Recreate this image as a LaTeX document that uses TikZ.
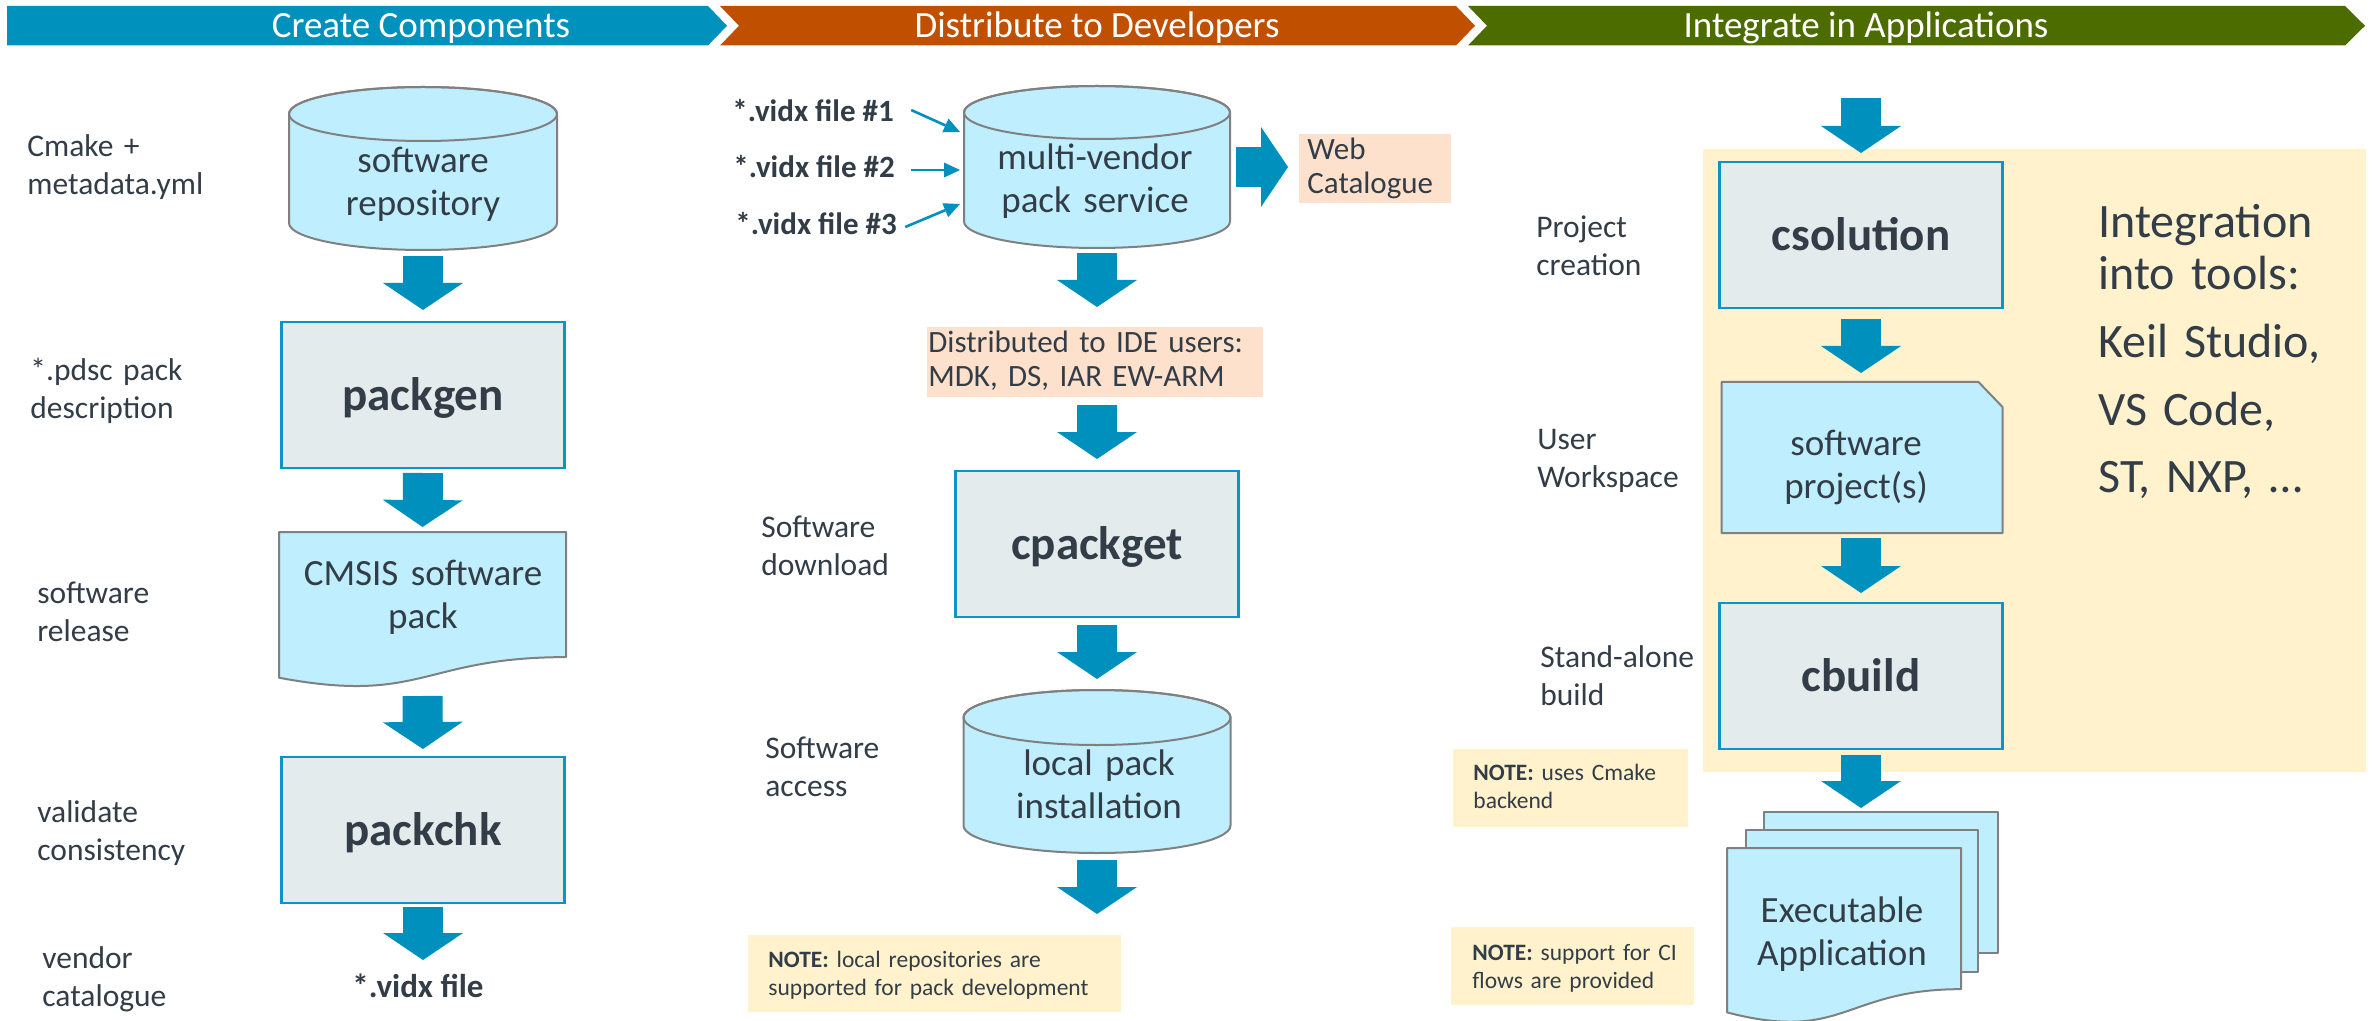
\documentclass[tikz,border=0pt]{standalone}
\usepackage{fontspec}
\setmainfont{Carlito}
\usetikzlibrary{arrows.meta,calc}

\definecolor{hdrblue}{RGB}{0,145,189}
\definecolor{hdrorange}{RGB}{192,80,0}
\definecolor{hdrgreen}{RGB}{76,108,0}
\definecolor{flowblue}{RGB}{0,144,190}
\definecolor{cyanfill}{RGB}{191,238,254}
\definecolor{outlinegray}{RGB}{128,128,128}
\definecolor{toolfill}{RGB}{228,235,236}
\definecolor{toolborder}{RGB}{14,148,196}
\definecolor{peach}{RGB}{253,225,205}
\definecolor{notefill}{RGB}{255,242,204}
\definecolor{textdark}{RGB}{51,61,71}

% storage drum: name, centre x, centre y, width, height, cap half-height (px)
\newcommand\drum[6]{%
  \node[shapeframe, minimum width=#4*0.5pt, minimum height=#5*0.5pt] (#1) at (#2,#3) {};
  \filldraw[outlined] ($(#1.north west)+(0,#6)$) -- ($(#1.south west)+(0,-#6)$)
    arc[start angle=180, end angle=360, x radius=#4*0.25pt, y radius=#6*0.5pt]
    -- ($(#1.north east)+(0,#6)$)
    arc[start angle=0, end angle=180, x radius=#4*0.25pt, y radius=#6*0.5pt] -- cycle;
  \draw[outlined, fill=none] ($(#1.north)+(0,#6)$) ellipse[x radius=#4*0.25pt, y radius=#6*0.5pt];
}

% document sheet with wavy bottom: name, left x, top y, width, nominal height (px)
\newcommand\docsheet[5]{%
  \node[shapeframe, anchor=north west, minimum width=#4*0.5pt, minimum height=#5*0.5pt] (#1) at (#2,#3) {};
  \filldraw[outlined] (#1.north west) -- (#1.north east) -- ($(#1.north east)+(0,{0.802*#5})$)
    .. controls ($(#1.north)+(0,{0.802*#5})$) and ($(#1.north)+(0,{1.1075*#5})$) ..
    ($(#1.north west)+(0,{0.934*#5})$) -- cycle;
}

\begin{document}
\begin{tikzpicture}[x=0.5pt, y=-0.5pt,
  shapeframe/.style={rectangle, inner sep=0pt, outer sep=0pt},
  outlined/.style={fill=cyanfill, draw=outlinegray, line width=1pt, line join=round},
  sheet/.style={shapeframe, outlined},
  toolbox/.style={shapeframe, fill=toolfill, draw=toolborder, line width=1.25pt,
    minimum width=141.5pt, minimum height=73pt, text=textdark,
    font=\bfseries\fontsize{23.5}{28}\selectfont, text height=15.5pt, text depth=0pt},
  peachbox/.style={shapeframe, fill=peach},
  notebox/.style={shapeframe, fill=notefill},
  banner/.style={anchor=base, inner sep=0pt, text=white, font=\fontsize{18.5}{22}\selectfont},
  sidelabel/.style={anchor=base west, inner sep=0pt, text width=110pt, align=left,
    text=textdark, font=\fontsize{15.75}{19}\selectfont},
  inlabel/.style={anchor=base, inner sep=0pt, text width=140pt, align=center,
    text=textdark, font=\fontsize{18.5}{21.5}\selectfont},
  boxlabel/.style={anchor=base west, inner sep=0pt, text width=170pt, align=left,
    text=textdark, font=\fontsize{15.5}{17}\selectfont},
  notelabel/.style={anchor=base west, inner sep=0pt, text width=190pt, align=left,
    text=textdark, font=\fontsize{11.75}{14}\selectfont},
  filelabel/.style={anchor=base west, inner sep=0pt, text=textdark,
    font=\bfseries\fontsize{15.5}{19}\selectfont},
  toollist/.style={anchor=base west, inner sep=0pt, text width=125pt, align=left, text=textdark},
  blockarrow/.style={draw=flowblue, line width=20pt,
    -{Triangle[width=40pt, length=13.5pt, line width=0pt]}},
  thinarrow/.style={draw=flowblue, line width=1.3pt,
    -{Triangle[width=7.5pt, length=8pt, line width=0pt]}}
]
\fill[white] (0,0) rectangle (2376,1021);
\useasboundingbox (0,0) rectangle (2376,1021);

% ---- phase banners ----
\fill[hdrblue] (7,6) -- (708,6) -- (727,25.75) -- (708,45.5) -- (7,45.5) -- cycle;
\fill[hdrorange] (720,6) -- (1456,6) -- (1475,25.75) -- (1456,45.5) -- (720,45.5) -- (739,25.75) -- cycle;
\fill[hdrgreen] (1468,6) -- (2345,6) -- (2365,25.75) -- (2345,45.5) -- (1468,45.5) -- (1487,25.75) -- cycle;
\node[banner] (hdrcreate) at (421,38) {Create Components};
\node[banner] (hdrdistrib) at (1097,38) {Distribute to Developers};
\node[banner] (hdrintegrate) at (1866,38) {Integrate in Applications};

% ---- IDE integration panel ----
\node[notebox, minimum width=331.5pt, minimum height=311.5pt] (ide) at (2034.5,460.5) {};

% ---- column 1: create components ----
\drum{repo}{423}{168.5}{268}{163}{27}
\node[inlabel] (repotext) at (423,173) {software\\repository};
\node[toolbox] (packgen) at (423,395) {packgen};
\docsheet{cmsis}{279}{532}{287}{156}
\node[inlabel] (cmsistext) at (423,585) {CMSIS software\\pack};
\node[toolbox] (packchk) at (423,830) {packchk};
\coordinate (vidxin) at (423,960);
\node[anchor=base, inner sep=0pt, text=textdark, font=\bfseries\fontsize{16.5}{19}\selectfont] (vidxout) at (418,997) {*.vidx file};

\node[sidelabel] (lblcmake) at (27,157) {Cmake +\\metadata.yml};
\node[sidelabel] (lblpdsc) at (30,380) {*.pdsc pack\\description};
\node[sidelabel] (lblrelease) at (37,603) {software\\release};
\node[sidelabel] (lblvalidate) at (37,822) {validate\\consistency};
\node[sidelabel] (lblvendor) at (42,968) {vendor\\catalogue};

\draw[blockarrow, shorten <=3pt, shorten >=6pt] (repo.south) -- (packgen.north);
\draw[blockarrow, shorten <=2.5pt, shorten >=2.5pt] (packgen.south) -- (cmsis.north);
\draw[blockarrow, shorten <=4pt, shorten >=4pt] (cmsis.south) -- (packchk.north);
\draw[blockarrow, shorten <=2pt] (packchk.south) -- (vidxin);

% ---- column 2: distribute to developers ----
\drum{mv}{1097}{167}{266}{162}{26.5}
\node[inlabel] (mvtext) at (1095,170) {multi-vendor\\pack service};
\node[filelabel] (vidx1) at (732,122) {*.vidx file \#1};
\node[filelabel] (vidx2) at (733,178) {*.vidx file \#2};
\node[filelabel] (vidx3) at (735,235) {*.vidx file \#3};
\draw[thinarrow] ($(vidx1.east)+(17,-1)$) -- ($(mv.west)+(-4,-35)$);
\draw[thinarrow] ($(vidx2.east)+(16,3)$) -- ($(vidx2.east -| mv.west)+(-4,3)$);
\draw[thinarrow] ($(vidx3.east)+(8,3)$) -- ($(mv.west)+(-4,37)$);

\node[peachbox, minimum width=76pt, minimum height=34.5pt] (web) at (1375,168.5) {};
\node[boxlabel] (webtext) at (1307,160) {Web\\Catalogue};
\node[peachbox, minimum width=168pt, minimum height=35pt] (distrib) at (1095,362) {};
\node[boxlabel] (distribtext) at (928,353) {Distributed to IDE users:\\MDK, DS, IAR EW-ARM};
\node[toolbox] (cpackget) at (1097,544) {cpackget};
\drum{local}{1097}{771.5}{267}{163}{27.5}
\node[inlabel] (localtext) at (1099,775) {local pack\\installation};
\coordinate (localout) at (1097,914);
\node[notebox, minimum width=186.5pt, minimum height=38.5pt] (notelocal) at (934.5,973.5) {};
\node[notelabel] (notelocaltext) at (768,967) {\textbf{NOTE:} local repositories are\\supported for pack development};

\node[sidelabel] (lbldownload) at (761,537) {Software\\download};
\node[sidelabel] (lblaccess) at (765,758) {Software\\access};

\draw[blockarrow, shorten <=3pt, shorten >=5.5pt] (mv.east) -- (mv.east -| web.west);
\draw[blockarrow, shorten <=2.5pt, shorten >=10pt] (mv.south) -- (distrib.north -| mv.south);
\draw[blockarrow, shorten <=4pt, shorten >=6pt] (distrib.south -| cpackget.north) -- (cpackget.north);
\draw[blockarrow, shorten <=4pt, shorten >=5.5pt] (cpackget.south) -- (local.north);
\draw[blockarrow, shorten <=3.5pt] (local.south) -- (localout);

% ---- column 3: integrate in applications ----
\coordinate (csolin) at (1861,98);
\node[toolbox] (csol) at (1861,235) {csolution};
\node[shapeframe, minimum width=140.5pt, minimum height=75.5pt] (swproj) at (1862,457.5) {};
\filldraw[outlined] (swproj.north west) -- ($(swproj.north east)+(-24,0)$) -- ($(swproj.north east)+(0,25)$)
  -- (swproj.south east) -- (swproj.south west) -- cycle;
\node[inlabel] (swprojtext) at (1856,455) {software\\project(s)};
\node[toolbox] (cbuild) at (1861,676) {cbuild};
\node[sheet, minimum width=117pt, minimum height=70.5pt] (execback) at (1881,882.5) {};
\node[sheet, minimum width=116pt, minimum height=71pt] (execmid) at (1862,901) {};
\docsheet{exec}{1727}{848}{234}{176}
\node[inlabel] (exectext) at (1842,922) {Executable\\Application};

\node[toollist, font=\fontsize{24}{26}\selectfont] (inttools) at (2098,238) {Integration\\into tools:};
\node[toollist, font=\fontsize{24}{33.5}\selectfont] (toolnames) at (2098,358) {Keil Studio,\\VS Code,\\ST, NXP, …};

\node[sidelabel] (lblproject) at (1536,238) {Project\\creation};
\node[sidelabel] (lblworkspace) at (1537,450) {User\\Workspace};
\node[sidelabel] (lblstandalone) at (1540,667) {Stand-alone\\build};

\node[notebox, minimum width=117.5pt, minimum height=39pt] (notecmake) at (1570.5,788) {};
\node[notelabel] (notecmaketext) at (1473,780) {\textbf{NOTE:} uses Cmake\\backend};
\node[notebox, minimum width=121.5pt, minimum height=39pt] (noteci) at (1572.5,966) {};
\node[notelabel] (notecitext) at (1472,960) {\textbf{NOTE:} support for CI\\flows are provided};

\draw[blockarrow, shorten >=4.5pt] (csolin) -- (csol.north);
\draw[blockarrow, shorten <=5.5pt, shorten >=4.5pt] (csol.south) -- (swproj.north -| csol.south);
\draw[blockarrow, shorten <=2.5pt, shorten >=5pt] (swproj.south -| cbuild.north) -- (cbuild.north);
\draw[blockarrow, shorten <=3pt, shorten >=2pt] (cbuild.south) -- (cbuild.south |- execback.north);
\end{tikzpicture}
\end{document}
